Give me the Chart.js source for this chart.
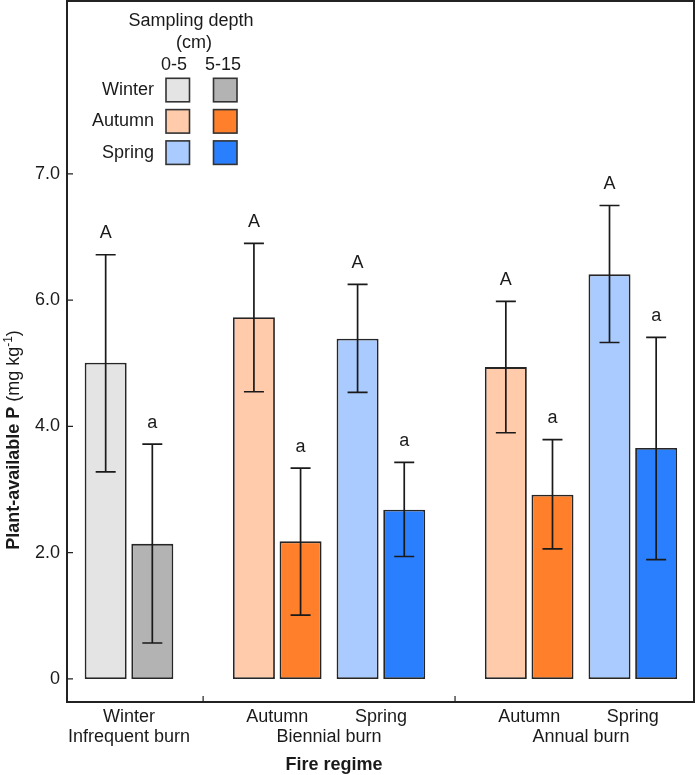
<!DOCTYPE html>
<html>
<head>
<meta charset="utf-8">
<script src="https://cdn.jsdelivr.net/npm/chart.js@4.4.1/dist/chart.umd.min.js"></script>
<style>
  html, body { margin: 0; padding: 0; background: #fff; }
</style>
</head>
<body>
<canvas id="myChart" width="696" height="775"></canvas>
<script>
// categories
const regimes = ['Infrequent burn', 'Biennial burn', 'Annual burn'];
const seasons = ['Winter', 'Autumn', 'Spring', 'Autumn', 'Spring'];
const regimeOf = [0, 1, 1, 2, 2];
const depthLabels = ['0-5', '5-15'];

// 0-5 cm
const mean_0_5 = [5.01, 5.73, 5.39, 4.94, 6.41];
const upper_0_5 = [6.72, 6.90, 6.25, 5.98, 7.50];
const lower_0_5 = [3.28, 4.55, 4.54, 3.90, 5.33];
const letters_0_5 = ['A', 'A', 'A', 'A', 'A'];

// 5-15 cm
const mean_5_15 = [2.14, 2.18, 2.68, 2.92, 3.66];
const upper_5_15 = [3.72, 3.34, 3.43, 3.79, 5.41];
const lower_5_15 = [0.57, 1.01, 1.94, 2.06, 1.89];
const letters_5_15 = ['a', 'a', 'a', 'a', 'a'];

// y axis ticks as printed on the figure
const yTickValues = [0, 2, 4, 6, 8];
const yTickLabels = ['0', '2.0', '4.0', '6.0', '7.0'];

const legendSeasons = ['Winter', 'Autumn', 'Spring'];
const shallowColors = { Winter: '#e4e4e4', Autumn: '#ffcbaa', Spring: '#aacbff' };
const deepColors = { Winter: '#b3b3b3', Autumn: '#ff7f2a', Spring: '#2a7fff' };

const FONT = 'Liberation Sans, Arial, sans-serif';
const INK = '#1a1a1a';

// subgroups sit one unit apart, with extra space between fire regimes
const groupGap = 0.43;
const xPos = seasons.map((s, i) => i + regimeOf[i] * groupGap);
const separators = [];
for (let i = 1; i < seasons.length; i++) {
    if (regimeOf[i] !== regimeOf[i - 1]) separators.push((xPos[i] + xPos[i - 1]) / 2);
}

function makeSet(label, means, colors) {
    return {
        label: label,
        data: means.map((v, i) => ({ x: xPos[i], y: v })),
        backgroundColor: seasons.map(s => colors[s]),
        borderColor: '#262626',
        borderWidth: 1.8,
        borderSkipped: false,
        categoryPercentage: 0.9,
        barPercentage: 0.9
    };
}

const errorBars = {
    id: 'errorBars',
    afterDatasetsDraw(chart) {
        const ctx = chart.ctx, y = chart.scales.y;
        const sets = [[upper_0_5, lower_0_5, letters_0_5], [upper_5_15, lower_5_15, letters_5_15]];
        ctx.save();
        ctx.strokeStyle = INK;
        ctx.lineWidth = 1.7;
        ctx.fillStyle = INK;
        ctx.font = '18px ' + FONT;
        ctx.textAlign = 'center';
        ctx.textBaseline = 'alphabetic';
        sets.forEach((set, d) => {
            const hi = set[0], lo = set[1], lt = set[2];
            chart.getDatasetMeta(d).data.forEach((bar, i) => {
                const top = y.getPixelForValue(hi[i]);
                const bot = y.getPixelForValue(lo[i]);
                ctx.beginPath();
                ctx.moveTo(bar.x, top); ctx.lineTo(bar.x, bot);
                ctx.moveTo(bar.x - 10, top); ctx.lineTo(bar.x + 10, top);
                ctx.moveTo(bar.x - 10, bot); ctx.lineTo(bar.x + 10, bot);
                ctx.stroke();
                ctx.fillText(lt[i], bar.x, top - 16.5);
            });
        });
        ctx.restore();
    }
};

const decorations = {
    id: 'decorations',
    afterDraw(chart) {
        const ctx = chart.ctx, a = chart.chartArea;
        const x = chart.scales.x, y = chart.scales.y;
        ctx.save();
        // frame
        ctx.strokeStyle = '#222';
        ctx.lineWidth = 2;
        ctx.strokeRect(a.left, a.top, a.right - a.left, a.bottom - a.top);
        // inward ticks
        ctx.lineWidth = 1.2;
        ctx.beginPath();
        yTickValues.forEach(v => {
            const py = y.getPixelForValue(v);
            ctx.moveTo(a.left, py); ctx.lineTo(a.left + 6, py);
        });
        separators.forEach(v => {
            const px = x.getPixelForValue(v);
            ctx.moveTo(px, a.bottom); ctx.lineTo(px, a.bottom - 6);
        });
        ctx.stroke();

        // category labels
        ctx.fillStyle = INK;
        ctx.font = '18px ' + FONT;
        ctx.textAlign = 'center';
        ctx.textBaseline = 'middle';
        seasons.forEach((s, i) => ctx.fillText(s, x.getPixelForValue(xPos[i]), 717));
        regimes.forEach((r, g) => {
            const px = xPos.filter((p, i) => regimeOf[i] === g).map(p => x.getPixelForValue(p));
            ctx.fillText(r, px.reduce((s, v) => s + v, 0) / px.length, 737);
        });
        ctx.font = 'bold 18px ' + FONT;
        ctx.fillText('Fire regime', 334, 765);

        // y title
        const parts = [
            ['Plant-available P ', 'bold 18px ' + FONT, 0],
            ['(mg kg', '18px ' + FONT, 0],
            ['-1', '12px ' + FONT, -7],
            [')', '18px ' + FONT, 0]
        ];
        let w = 0;
        parts.forEach(p => { ctx.font = p[1]; w += ctx.measureText(p[0]).width; });
        ctx.translate(19, 440);
        ctx.rotate(-Math.PI / 2);
        ctx.textAlign = 'left';
        ctx.textBaseline = 'alphabetic';
        let cx = -w / 2;
        parts.forEach(p => {
            ctx.font = p[1];
            ctx.fillText(p[0], cx, p[2]);
            cx += ctx.measureText(p[0]).width;
        });
        ctx.restore();

        // legend
        ctx.save();
        ctx.fillStyle = INK;
        ctx.font = '18px ' + FONT;
        ctx.textAlign = 'center';
        ctx.textBaseline = 'middle';
        ctx.fillText('Sampling depth', 191, 21);
        ctx.fillText('(cm)', 194, 43);
        ctx.fillText(depthLabels[0], 174, 65);
        ctx.fillText(depthLabels[1], 223, 65);
        const sw = 23.5, cols = [166, 213.5];
        legendSeasons.forEach((s, r) => {
            const top = 78.3 + r * 31.3;
            ctx.textAlign = 'right';
            ctx.fillStyle = INK;
            ctx.fillText(s, 154, top + sw / 2);
            [shallowColors[s], deepColors[s]].forEach((c, k) => {
                ctx.fillStyle = c;
                ctx.fillRect(cols[k], top, sw, sw);
                ctx.strokeStyle = '#333';
                ctx.lineWidth = 1.6;
                ctx.strokeRect(cols[k], top, sw, sw);
            });
        });
        ctx.restore();
    }
};

const myChart = new Chart(document.getElementById('myChart'), {
    type: 'bar',
    data: {
        datasets: [
            makeSet(depthLabels[0], mean_0_5, shallowColors),
            makeSet(depthLabels[1], mean_5_15, deepColors)
        ]
    },
    options: {
        responsive: false,
        animation: false,
        layout: { padding: { top: 1, right: 2, left: 0, bottom: 0 } },
        plugins: { legend: { display: false }, tooltip: { enabled: false } },
        scales: {
            x: {
                type: 'linear',
                offset: false,
                min: -0.598,
                max: 5.45,
                afterBuildTicks: s => { s.ticks = separators.map(v => ({ value: v })); },
                afterFit: s => { s.height = 73; s.paddingLeft = 0; s.paddingRight = 0; },
                ticks: { display: false },
                grid: { display: false, drawTicks: false },
                border: { display: false }
            },
            y: {
                type: 'linear',
                min: -0.365,
                max: 10.74,
                afterBuildTicks: s => { s.ticks = yTickValues.map(v => ({ value: v })); },
                afterFit: s => { s.width = 67; s.paddingTop = 0; s.paddingBottom = 0; },
                ticks: {
                    callback: (v, i) => yTickLabels[i],
                    font: { family: FONT, size: 18 },
                    color: INK,
                    padding: 7
                },
                grid: { display: false, drawTicks: false },
                border: { display: false }
            }
        }
    },
    plugins: [errorBars, decorations]
});
</script>
</body>
</html>
